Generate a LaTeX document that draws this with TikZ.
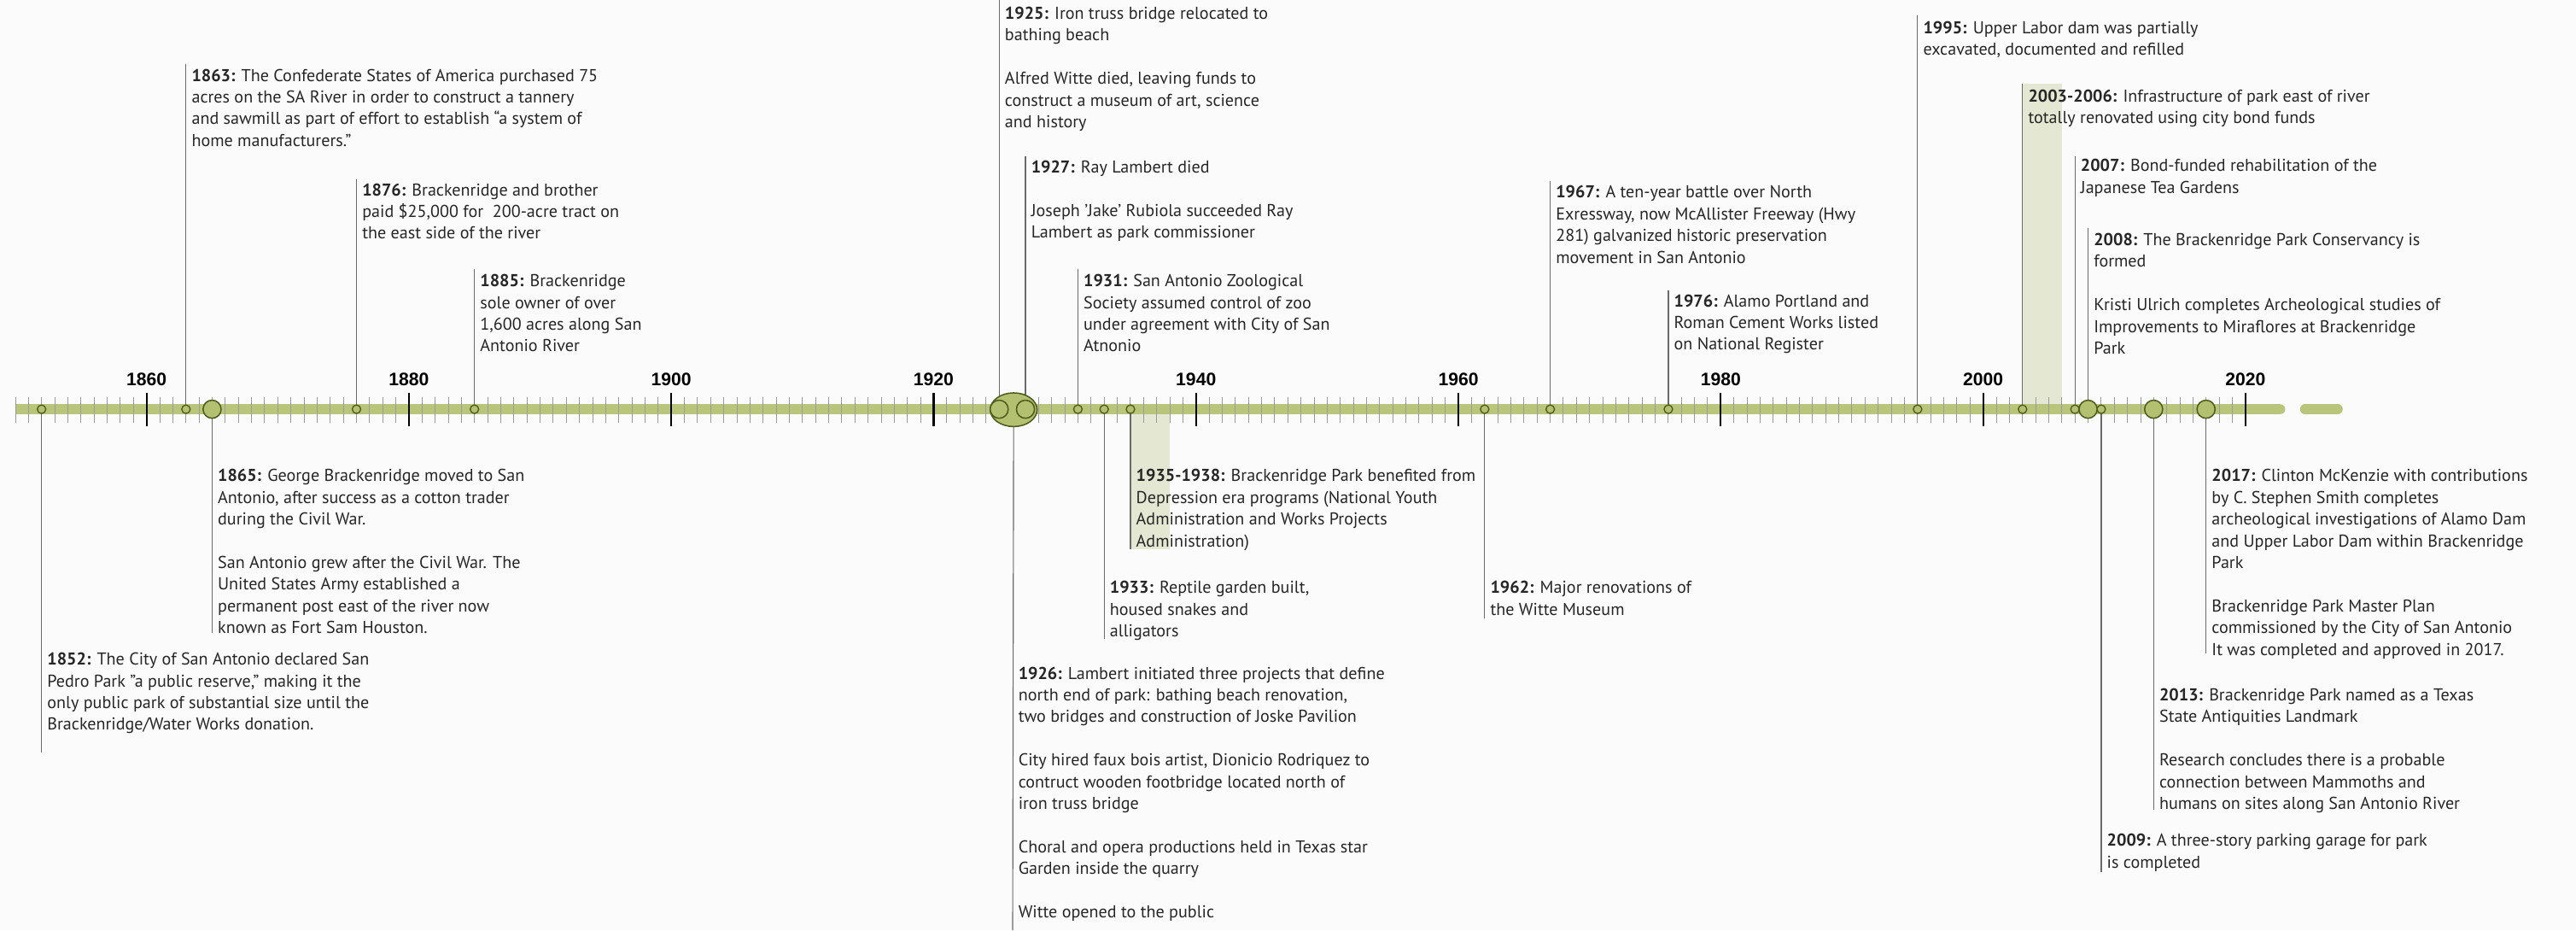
\documentclass[tikz,border=0pt]{standalone}
\usepackage{fontspec}
\setmainfont{PT Sans}
\newfontfamily\axisfont{Liberation Sans}
\usetikzlibrary{shapes.geometric}
\definecolor{bandc}{RGB}{184,197,122}
\definecolor{dotfill}{RGB}{178,192,112}
\definecolor{dotline}{RGB}{78,92,30}
\definecolor{shadec}{RGB}{228,232,210}
\definecolor{txtc}{RGB}{38,38,38}
\definecolor{connc}{RGB}{105,105,105}
\definecolor{minortick}{RGB}{155,155,155}
\definecolor{bgc}{RGB}{251,251,251}
\pgfdeclarelayer{under}
\pgfdeclarelayer{axis}
\pgfsetlayers{under,axis,main}
\newcommand{\evt}[1]{\begin{tabular}[t]{@{}l@{}}#1\end{tabular}}
\newcommand{\yr}[1]{\textbf{#1}}
\tikzset{
  evtext/.style={anchor=base west, inner sep=0pt, outer sep=0pt, text=txtc, font=\fontsize{10.45}{13.2}\selectfont},
  dotsmall/.style={circle, draw=dotline, fill=dotfill, line width=0.7pt, minimum size=5.2pt, inner sep=0pt},
  dotbig/.style={circle, draw=dotline, fill=dotfill, line width=0.8pt, minimum size=11pt, inner sep=0pt},
  blob/.style={ellipse, draw=dotline, fill=dotfill, line width=0.8pt, minimum width=28.5pt, minimum height=20.5pt, inner sep=0pt},
  connline/.style={draw=connc, line width=0.6pt},
  yearlabel/.style={font=\axisfont\bfseries\fontsize{11}{11}\selectfont, text=black, inner sep=0pt},
}
\begin{document}
\begin{tikzpicture}[x=1pt,y=-1pt]
\useasboundingbox (0,0) rectangle (1568,566);
\begin{pgfonlayer}{under}
\fill[bgc] (0,0) rectangle (1568,566);
\fill[shadec] (688.1,249) rectangle (712,334.4);
\fill[shadec] (1231.1,51.1) rectangle (1255,249);
\end{pgfonlayer}
\begin{pgfonlayer}{axis}
\draw[bandc, line width=6pt] (9.3,249) -- (1388,249);
\fill[bandc] (1388,249) circle (3);
\draw[bandc, line width=6pt, line cap=round] (1403,249) -- (1423,249);
\foreach \yy in {1850,...,2019} {
  \pgfmathsetmacro\xx{89.2+(\yy-1860)*7.985}
  \draw[minortick, line width=0.5pt] (\xx,241.7) -- (\xx,257.3);
}
\foreach \yy in {1860,1880,...,2020} {
  \pgfmathsetmacro\xx{89.2+(\yy-1860)*7.985}
  \draw[black, line width=1.1pt] (\xx,239.1) -- (\xx,259.5);
  \node[yearlabel] (lbl\yy) at (\xx,230.9) {\yy};
}
\end{pgfonlayer}

% event markers
\node[dotsmall] (c1852) at (25.3,249) {};
\node[dotsmall] (c1863) at (113.2,249) {};
\node[dotbig]   (c1865) at (129.1,249) {};
\node[dotsmall] (c1876) at (217,249) {};
\node[dotsmall] (c1885) at (288.8,249) {};
\node[blob]     (c1926) at (617,249.3) {};
\node[dotbig]   (c1925) at (608.2,249) {};
\node[dotbig]   (c1927) at (624.2,249) {};
\node[dotsmall] (c1931) at (656.1,249) {};
\node[dotsmall] (c1933) at (672.1,249) {};
\node[dotsmall] (c1935) at (688.1,249) {};
\node[dotsmall] (c1962) at (903.7,249) {};
\node[dotsmall] (c1967) at (943.6,249) {};
\node[dotsmall] (c1976) at (1015.5,249) {};
\node[dotsmall] (c1995) at (1167.2,249) {};
\node[dotsmall] (c2003) at (1231.1,249) {};
\node[dotsmall] (c2007) at (1263,249) {};
\node[dotsmall] (c2009) at (1279,249) {};
\node[dotbig]   (c2008) at (1271,249) {};
\node[dotbig]   (c2013) at (1310.9,249) {};
\node[dotbig]   (c2017) at (1342.8,249) {};

% connector ends
\coordinate (e1852) at (25.3,457.9);
\coordinate (e1863) at (113.2,39);
\coordinate (e1865) at (129.1,385.3);
\coordinate (e1876) at (217,109.1);
\coordinate (e1885) at (288.8,163.7);
\coordinate (e1925) at (608.2,0);
\coordinate (e1926) at (616.4,566);
\coordinate (e1927) at (624.2,94.9);
\coordinate (e1931) at (656.1,163.7);
\coordinate (e1933) at (672.1,388.7);
\coordinate (e1935) at (688.1,334.4);
\coordinate (e1962) at (903.7,376.3);
\coordinate (e1967) at (943.6,110);
\coordinate (e1976) at (1015.5,176.7);
\coordinate (e1995) at (1167.2,9.5);
\coordinate (e2003) at (1231.1,51.1);
\coordinate (e2007) at (1263,94.9);
\coordinate (e2008) at (1271,138.6);
\coordinate (e2009) at (1279,530.5);
\coordinate (e2013) at (1310.9,492.8);
\coordinate (e2017) at (1342.8,397.6);

\begin{pgfonlayer}{axis}
\foreach \k in {1852,1863,1865,1876,1885,1925,1926,1927,1931,1933,1935,1962,1967,1976,1995,2003,2007,2008,2009,2013,2017}
  \draw[connline] (c\k.center) -- (e\k);
\end{pgfonlayer}

% texts above the axis
\node[evtext] (t1863) at (116.7,49.4) {\evt{\yr{1863:} The Confederate States of America purchased 75\\ acres on the SA River in order to construct a tannery\\ and sawmill as part of effort to establish “a system of\\ home manufacturers."}};
\node[evtext] (t1876) at (220.5,119.1) {\evt{\yr{1876:} Brackenridge and brother\\ paid \$25,000 for\ \ 200-acre tract on\\ the east side of the river}};
\node[evtext] (t1885) at (292.3,174.5) {\evt{\yr{1885:} Brackenridge\\ sole owner of over\\ 1,600 acres along San\\ Antonio River}};
\node[evtext] (t1925) at (611.7,11.7) {\evt{\yr{1925:} Iron truss bridge relocated to\\ bathing beach\\ \\ Alfred Witte died, leaving funds to\\ construct a museum of art, science\\ and history}};
\node[evtext] (t1927) at (627.7,105.2) {\evt{\yr{1927:} Ray Lambert died\\ \\ Joseph 'Jake' Rubiola succeeded Ray\\ Lambert as park commissioner}};
\node[evtext] (t1931) at (659.6,174.5) {\evt{\yr{1931:} San Antonio Zoological\\ Society assumed control of zoo\\ under agreement with City of San\\ Atnonio}};
\node[evtext] (t1967) at (947.1,120.5) {\evt{\yr{1967:} A ten-year battle over North\\ Exressway, now McAllister Freeway (Hwy\\ 281) galvanized historic preservation\\ movement in San Antonio}};
\node[evtext] (t1976) at (1019,186.6) {\evt{\yr{1976:} Alamo Portland and\\ Roman Cement Works listed\\ on National Register}};
\node[evtext] (t1995) at (1170.7,20.3) {\evt{\yr{1995:} Upper Labor dam was partially\\ excavated, documented and refilled}};
\node[evtext] (t2003) at (1234.6,61.9) {\evt{\yr{2003-2006:} Infrastructure of park east of river\\ totally renovated using city bond funds}};
\node[evtext] (t2007) at (1266.5,104.4) {\evt{\yr{2007:} Bond-funded rehabilitation of the\\ Japanese Tea Gardens}};
\node[evtext] (t2008) at (1274.5,149.4) {\evt{\yr{2008:} The Brackenridge Park Conservancy is\\ formed\\ \\ Kristi Ulrich completes Archeological studies of\\ Improvements to Miraflores at Brackenridge\\ Park}};

% texts below the axis
\node[evtext] (t1852) at (28.8,404.7) {\evt{\yr{1852:} The City of San Antonio declared San\\ Pedro Park "a public reserve," making it the\\ only public park of substantial size until the\\ Brackenridge/Water Works donation.}};
\node[evtext] (t1865) at (132.6,293.1) {\evt{\yr{1865:} George Brackenridge moved to San\\ Antonio, after success as a cotton trader\\ during the Civil War.\\ \\ San Antonio grew after the Civil War. The\\ United States Army established a\\ permanent post east of the river now\\ known as Fort Sam Houston.}};
\node[evtext] (t1926) at (619.9,413.2) {\evt{\yr{1926:} Lambert initiated three projects that define\\ north end of park: bathing beach renovation,\\ two bridges and construction of Joske Pavilion\\ \\ City hired faux bois artist, Dionicio Rodriquez to\\ contruct wooden footbridge located north of\\ iron truss bridge\\ \\ Choral and opera productions held in Texas star\\ Garden inside the quarry\\ \\ Witte opened to the public}};
\node[evtext] (t1933) at (675.6,361) {\evt{\yr{1933:} Reptile garden built,\\ housed snakes and\\ alligators}};
\node[evtext] (t1935) at (691.6,293.1) {\evt{\yr{1935-1938:} Brackenridge Park benefited from\\ Depression era programs (National Youth\\ Administration and Works Projects\\ Administration)}};
\node[evtext] (t1962) at (907.2,361) {\evt{\yr{1962:} Major renovations of\\ the Witte Museum}};
\node[evtext] (t2009) at (1282.5,515) {\evt{\yr{2009:} A three-story parking garage for park\\ is completed}};
\node[evtext] (t2013) at (1314.4,426.4) {\evt{\yr{2013:} Brackenridge Park named as a Texas\\ State Antiquities Landmark\\ \\ Research concludes there is a probable\\ connection between Mammoths and\\ humans on sites along San Antonio River}};
\node[evtext] (t2017) at (1346.3,293.1) {\evt{\yr{2017:} Clinton McKenzie with contributions\\ by C. Stephen Smith completes\\ archeological investigations of Alamo Dam\\ and Upper Labor Dam within Brackenridge\\ Park\\ \\ Brackenridge Park Master Plan\\ commissioned by the City of San Antonio\\ It was completed and approved in 2017.}};
\end{tikzpicture}
\end{document}
